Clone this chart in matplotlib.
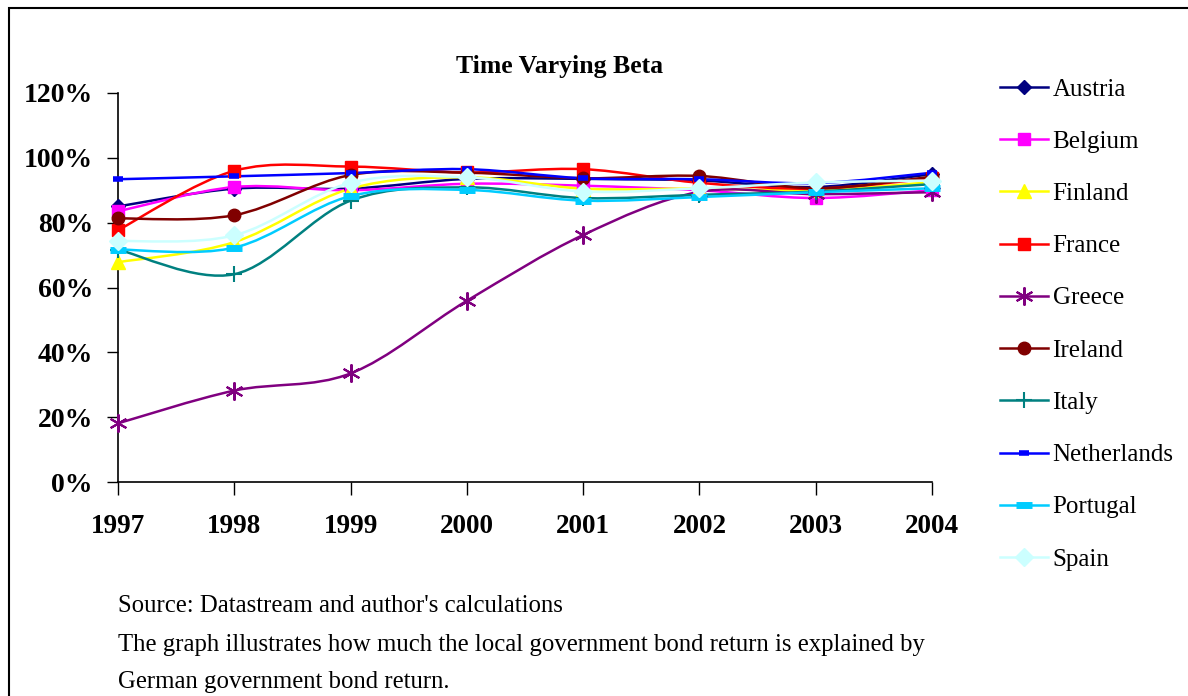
import numpy as np
import matplotlib
matplotlib.use('Agg')
import matplotlib.pyplot as plt
from matplotlib.path import Path
from matplotlib.patches import PathPatch, Rectangle
from matplotlib.lines import Line2D
from matplotlib.ticker import FuncFormatter

plt.rcParams['font.family'] = ['Liberation Serif', 'DejaVu Serif']

years = [1997, 1998, 1999, 2000, 2001, 2002, 2003, 2004]

austria = [85.0, 90.5, 90.5, 93.5, 93.5, 93.0, 91.0, 95.0]
belgium = [83.5, 91.0, 90.0, 92.0, 91.4, 90.0, 87.6, 90.0]
finland = [67.8, 74.0, 90.5, 94.0, 90.5, 90.5, 90.0, 92.5]
france = [77.7, 96.0, 97.3, 95.5, 96.5, 92.3, 90.5, 93.7]
greece = [18.1, 28.2, 33.5, 55.9, 76.2, 89.5, 88.8, 89.4]
ireland = [81.3, 82.3, 94.7, 95.4, 93.7, 94.4, 90.6, 94.2]
italy = [71.7, 64.1, 86.8, 90.9, 87.6, 88.6, 89.6, 91.9]
netherlands = [93.4, 94.3, 95.3, 96.5, 93.7, 93.4, 92.2, 95.4]
portugal = [71.7, 72.3, 88.2, 90.1, 86.8, 87.9, 89.4, 90.6]
spain = [74.3, 76.1, 92.3, 94.0, 89.6, 90.6, 92.4, 93.0]

countries = ['Austria', 'Belgium', 'Finland', 'France', 'Greece',
             'Ireland', 'Italy', 'Netherlands', 'Portugal', 'Spain']
series = [austria, belgium, finland, france, greece,
          ireland, italy, netherlands, portugal, spain]

# colour, marker, marker size, marker edge width
styles = {
    'Austria': ('#000080', 'D', 7, 1),
    'Belgium': ('#FF00FF', 's', 9, 1),
    'Finland': ('#FFFF00', '^', 10, 1),
    'France': ('#FF0000', 's', 8, 1),
    'Greece': ('#800080', (6, 2, 0), 13, 1.5),
    'Ireland': ('#800000', 'o', 9, 1),
    'Italy': ('#008080', '+', 11, 1.5),
    'Netherlands': ('#0000FF', '_', 7, 4),
    'Portugal': ('#00CCFF', '_', 11, 5),
    'Spain': ('#CCFFFF', 'D', 9, 1),
}


def smooth_path(xs, ys):
    # Excel style smoothed line: bezier segments through the data points
    pts = np.column_stack([xs, ys]).astype(float)
    n = len(pts)
    verts = [pts[0]]
    codes = [Path.MOVETO]
    for i in range(n - 1):
        p0 = pts[i - 1] if i > 0 else pts[i]
        p1 = pts[i]
        p2 = pts[i + 1]
        p3 = pts[i + 2] if i + 2 < n else pts[i + 1]
        c1 = p1 + (p2 - p0) / 6.0
        c2 = p2 - (p3 - p1) / 6.0
        verts += [c1, c2, p2]
        codes += [Path.CURVE4] * 3
    return Path(verts, codes)


fig = plt.figure(figsize=(11.88, 6.96), dpi=100)
ax = fig.add_axes([118 / 1188, 1 - 482 / 696, (932 - 118) / 1188, (482 - 93) / 696])

handles = []
for name, vals in zip(countries, series):
    col, mk, ms, mew = styles[name]
    ax.add_patch(PathPatch(smooth_path(years, vals), facecolor='none',
                           edgecolor=col, lw=1.8, zorder=2))
    ax.plot(years, vals, linestyle='none', marker=mk, ms=ms, color=col,
            mec=col, mew=mew, zorder=3, clip_on=False)
    handles.append(Line2D([], [], color=col, lw=1.8, marker=mk, ms=ms,
                          mec=col, mew=mew))

ax.set_xlim(1997, 2004)
ax.set_ylim(0, 120)
ax.set_xticks(years)
ax.set_yticks(range(0, 121, 20))
ax.yaxis.set_major_formatter(FuncFormatter(lambda v, p: '%d%%' % v))
for s in ['top', 'right']:
    ax.spines[s].set_visible(False)
ax.spines['left'].set_linewidth(1.2)
ax.spines['bottom'].set_linewidth(1.2)
ax.tick_params(axis='x', direction='out', length=9, width=1, pad=14, labelsize=19.5)
ax.tick_params(axis='y', direction='out', length=8, width=1, pad=10, labelsize=20)
for lab in ax.get_xticklabels() + ax.get_yticklabels():
    lab.set_fontweight('bold')

fig.text(560 / 1188, 1 - 67 / 696, 'Time Varying Beta', ha='center', va='center',
         fontsize=18.5, fontweight='bold')

fig.legend(handles, countries, loc='upper left', bbox_to_anchor=(990 / 1188, 1 - 68 / 696),
           frameon=False, fontsize=18, handlelength=1.9, handletextpad=0.2,
           labelspacing=1.19, borderaxespad=0)

fig.text(118 / 1188, 1 - 606 / 696, "Source: Datastream and author's calculations",
         ha='left', va='center', fontsize=17.8)
fig.text(118 / 1188, 1 - 645 / 696,
         'The graph illustrates how much the local government bond return is explained by',
         ha='left', va='center', fontsize=17.8)
fig.text(118 / 1188, 1 - 682 / 696, 'German government bond return.',
         ha='left', va='center', fontsize=17.8)

# outer frame (top and left edges visible)
fig.patches.append(Rectangle((9 / 1188, -0.1), 1.2, 1 - 8.5 / 696 + 0.1,
                             transform=fig.transFigure, fill=False,
                             edgecolor='black', lw=1.5))

fig.savefig('out.png', dpi=100)
